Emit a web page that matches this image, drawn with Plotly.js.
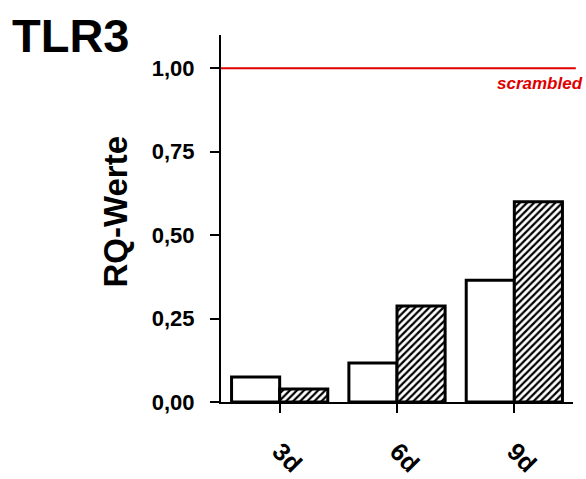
<!DOCTYPE html>
<html>
<head>
<meta charset="utf-8">
<script src="https://cdn.plot.ly/plotly-3.0.1.min.js"></script>
<style>html,body{margin:0;padding:0;background:#fff;}#chart{width:586px;height:479px;}</style>
</head>
<body>
<div id="chart"></div>
<script>
// Data
const categories = ["3d", "6d", "9d"];
const seriesWhite = [0.075, 0.117, 0.365];
const seriesHatched = [0.039, 0.288, 0.600];
const scrambledLevel = 1.0;
const scrambledLabel = "scrambled";
const yTickVals = [0, 0.25, 0.5, 0.75, 1.0];
const yTickText = ["0,00", "0,25", "0,50", "0,75", "1,00"];
const chartTitle = "TLR3";
const yTitle = "RQ-Werte";

const font = "Liberation Sans, Arial, sans-serif";

const traces = [
  {
    type: "bar", x: categories, y: seriesWhite, name: "A",
    marker: {color: "#ffffff", line: {color: "#000", width: 3}}
  },
  {
    type: "bar", x: categories, y: seriesHatched, name: "B",
    marker: {color: "#ffffff", line: {color: "#000", width: 3},
      pattern: {shape: "/", fgcolor: "#000", bgcolor: "#fff", size: 5, solidity: 0.45}}
  }
];

const layout = {
  width: 586, height: 479,
  margin: {l: 221, r: 13, t: 35, b: 77},
  paper_bgcolor: "#fff", plot_bgcolor: "#fff",
  showlegend: false,
  barmode: "group", bargap: 0.18, bargroupgap: 0,
  font: {family: font, color: "#000"},
  xaxis: {
    type: "category", range: [-0.5, 2.5],
    showline: true, linecolor: "#000", linewidth: 2,
    ticks: "outside", ticklen: 9, tickwidth: 2, tickcolor: "#000",
    tickangle: 45, ticklabelstandoff: 14,
    tickfont: {family: font, size: 25, color: "#000", weight: "bold"},
    showgrid: false, zeroline: false
  },
  yaxis: {
    range: [0, 1.1],
    tickvals: yTickVals, ticktext: yTickText,
    showline: true, linecolor: "#000", linewidth: 2,
    ticks: "outside", ticklen: 9, tickwidth: 2, tickcolor: "#000",
    ticklabelstandoff: 11,
    tickfont: {family: font, size: 22, color: "#000", weight: "bold"},
    showgrid: false, zeroline: false
  },
  shapes: [
    {type: "line", xref: "paper", yref: "y", x0: 0, x1: 1.008, y0: scrambledLevel, y1: scrambledLevel,
     line: {color: "#e00000", width: 2}}
  ],
  annotations: [
    {xref: "paper", yref: "y", x: 1.035, y: scrambledLevel, xanchor: "right", yanchor: "top", yshift: -4,
     text: scrambledLabel, showarrow: false,
     font: {family: font, size: 17, color: "#e00000", style: "italic", weight: "bold"}},
    {xref: "paper", yref: "paper", x: -0.6, y: 1.0, xanchor: "left", yanchor: "middle",
     text: chartTitle, showarrow: false,
     font: {family: font, size: 47, color: "#000", weight: "bold"}},
    {xref: "paper", yref: "paper", x: -0.3, y: 0.52, xanchor: "center", yanchor: "middle",
     text: yTitle, textangle: -90, showarrow: false,
     font: {family: font, size: 33, color: "#000", weight: "bold"}}
  ]
};

Plotly.newPlot("chart", traces, layout, {displayModeBar: false, staticPlot: true});
</script>
</body>
</html>
